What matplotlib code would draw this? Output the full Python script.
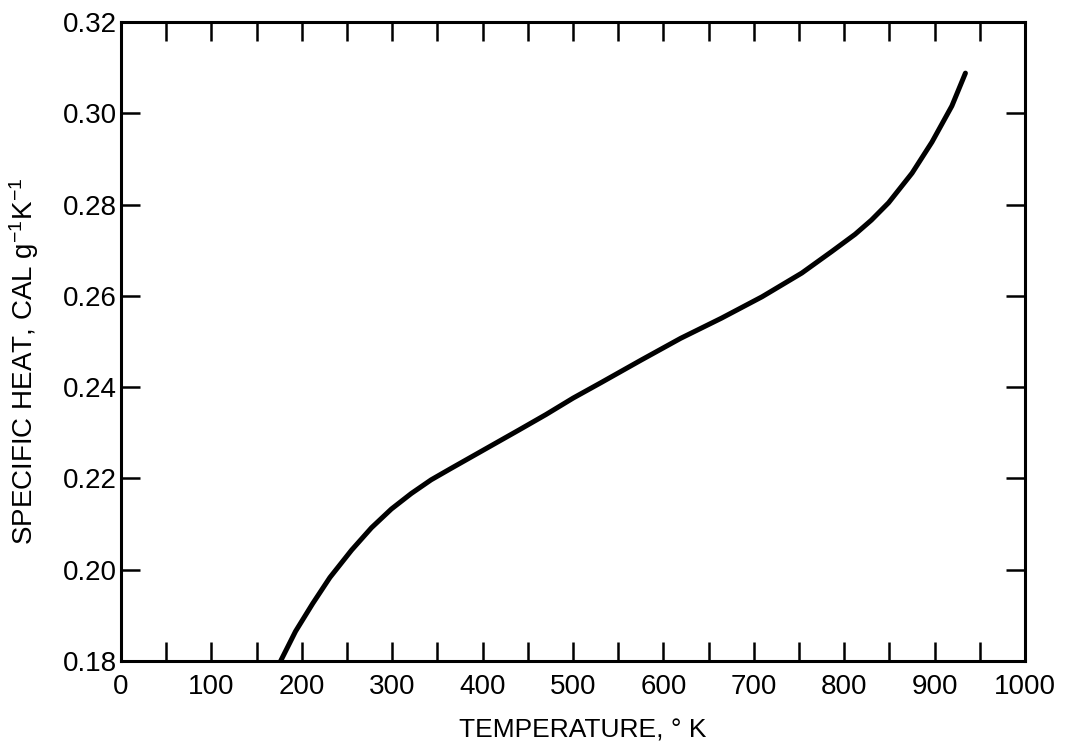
import matplotlib
matplotlib.use("Agg")
from matplotlib import pyplot as plt
from matplotlib.ticker import MultipleLocator, FixedLocator

# Values
temperature = [176.5, 193, 212, 231, 255, 277, 299, 321, 343, 365, 390, 415,
               440, 470, 500, 531, 575, 619, 664, 709, 753, 786, 812, 830,
               849, 875, 897, 919, 934]
specific_heat = [0.1800, 0.1865, 0.1926, 0.1983, 0.2043, 0.2092, 0.2133,
                 0.2167, 0.2197, 0.2222, 0.2250, 0.2278, 0.2306, 0.2340,
                 0.2376, 0.2410, 0.2459, 0.2507, 0.2551, 0.2598, 0.2650,
                 0.2697, 0.2735, 0.2766, 0.2804, 0.2869, 0.2937, 0.3016,
                 0.3088]

x_ticks = [0, 100, 200, 300, 400, 500, 600, 700, 800, 900, 1000]
x_tick_labels = ["0", "100", "200", "300", "400", "500", "600", "700",
                 "800", "900", "1000"]
y_ticks = [0.18, 0.20, 0.22, 0.24, 0.26, 0.28, 0.30, 0.32]
y_tick_labels = ["0.18", "0.20", "0.22", "0.24", "0.26", "0.28", "0.30", "0.32"]

plt.rcParams["font.family"] = ["Liberation Sans", "DejaVu Sans"]
plt.rcParams["mathtext.default"] = "regular"

fig = plt.figure(figsize=(10.77, 7.51), dpi=100)
ax = fig.add_axes([0.1124, 0.1198, 0.8394, 0.8509])

ax.plot(temperature, specific_heat, color="black", linewidth=3.6,
        solid_capstyle="round", solid_joinstyle="round")

ax.set_xlim(0, 1000)
ax.set_ylim(0.18, 0.32)

ax.xaxis.set_major_locator(FixedLocator(x_ticks))
ax.set_xticklabels(x_tick_labels)
ax.xaxis.set_minor_locator(MultipleLocator(50))
ax.yaxis.set_major_locator(FixedLocator(y_ticks))
ax.set_yticklabels(y_tick_labels)

ax.tick_params(axis="both", which="both", direction="in", top=True,
               right=True, length=14, width=1.8, color="black")
ax.tick_params(axis="x", which="major", labelsize=20, pad=9)
ax.tick_params(axis="y", which="major", labelsize=20, pad=3)

for spine in ax.spines.values():
    spine.set_linewidth(2.2)

ax.set_xlabel("TEMPERATURE, \u00b0 K", fontsize=19)
ax.set_ylabel(r"SPECIFIC HEAT, CAL g$^{-1}$K$^{-1}$", fontsize=20)
ax.xaxis.set_label_coords(0.511, -0.09)
ax.yaxis.set_label_coords(-0.088, 0.469)

fig.savefig("out.png", dpi=100)
